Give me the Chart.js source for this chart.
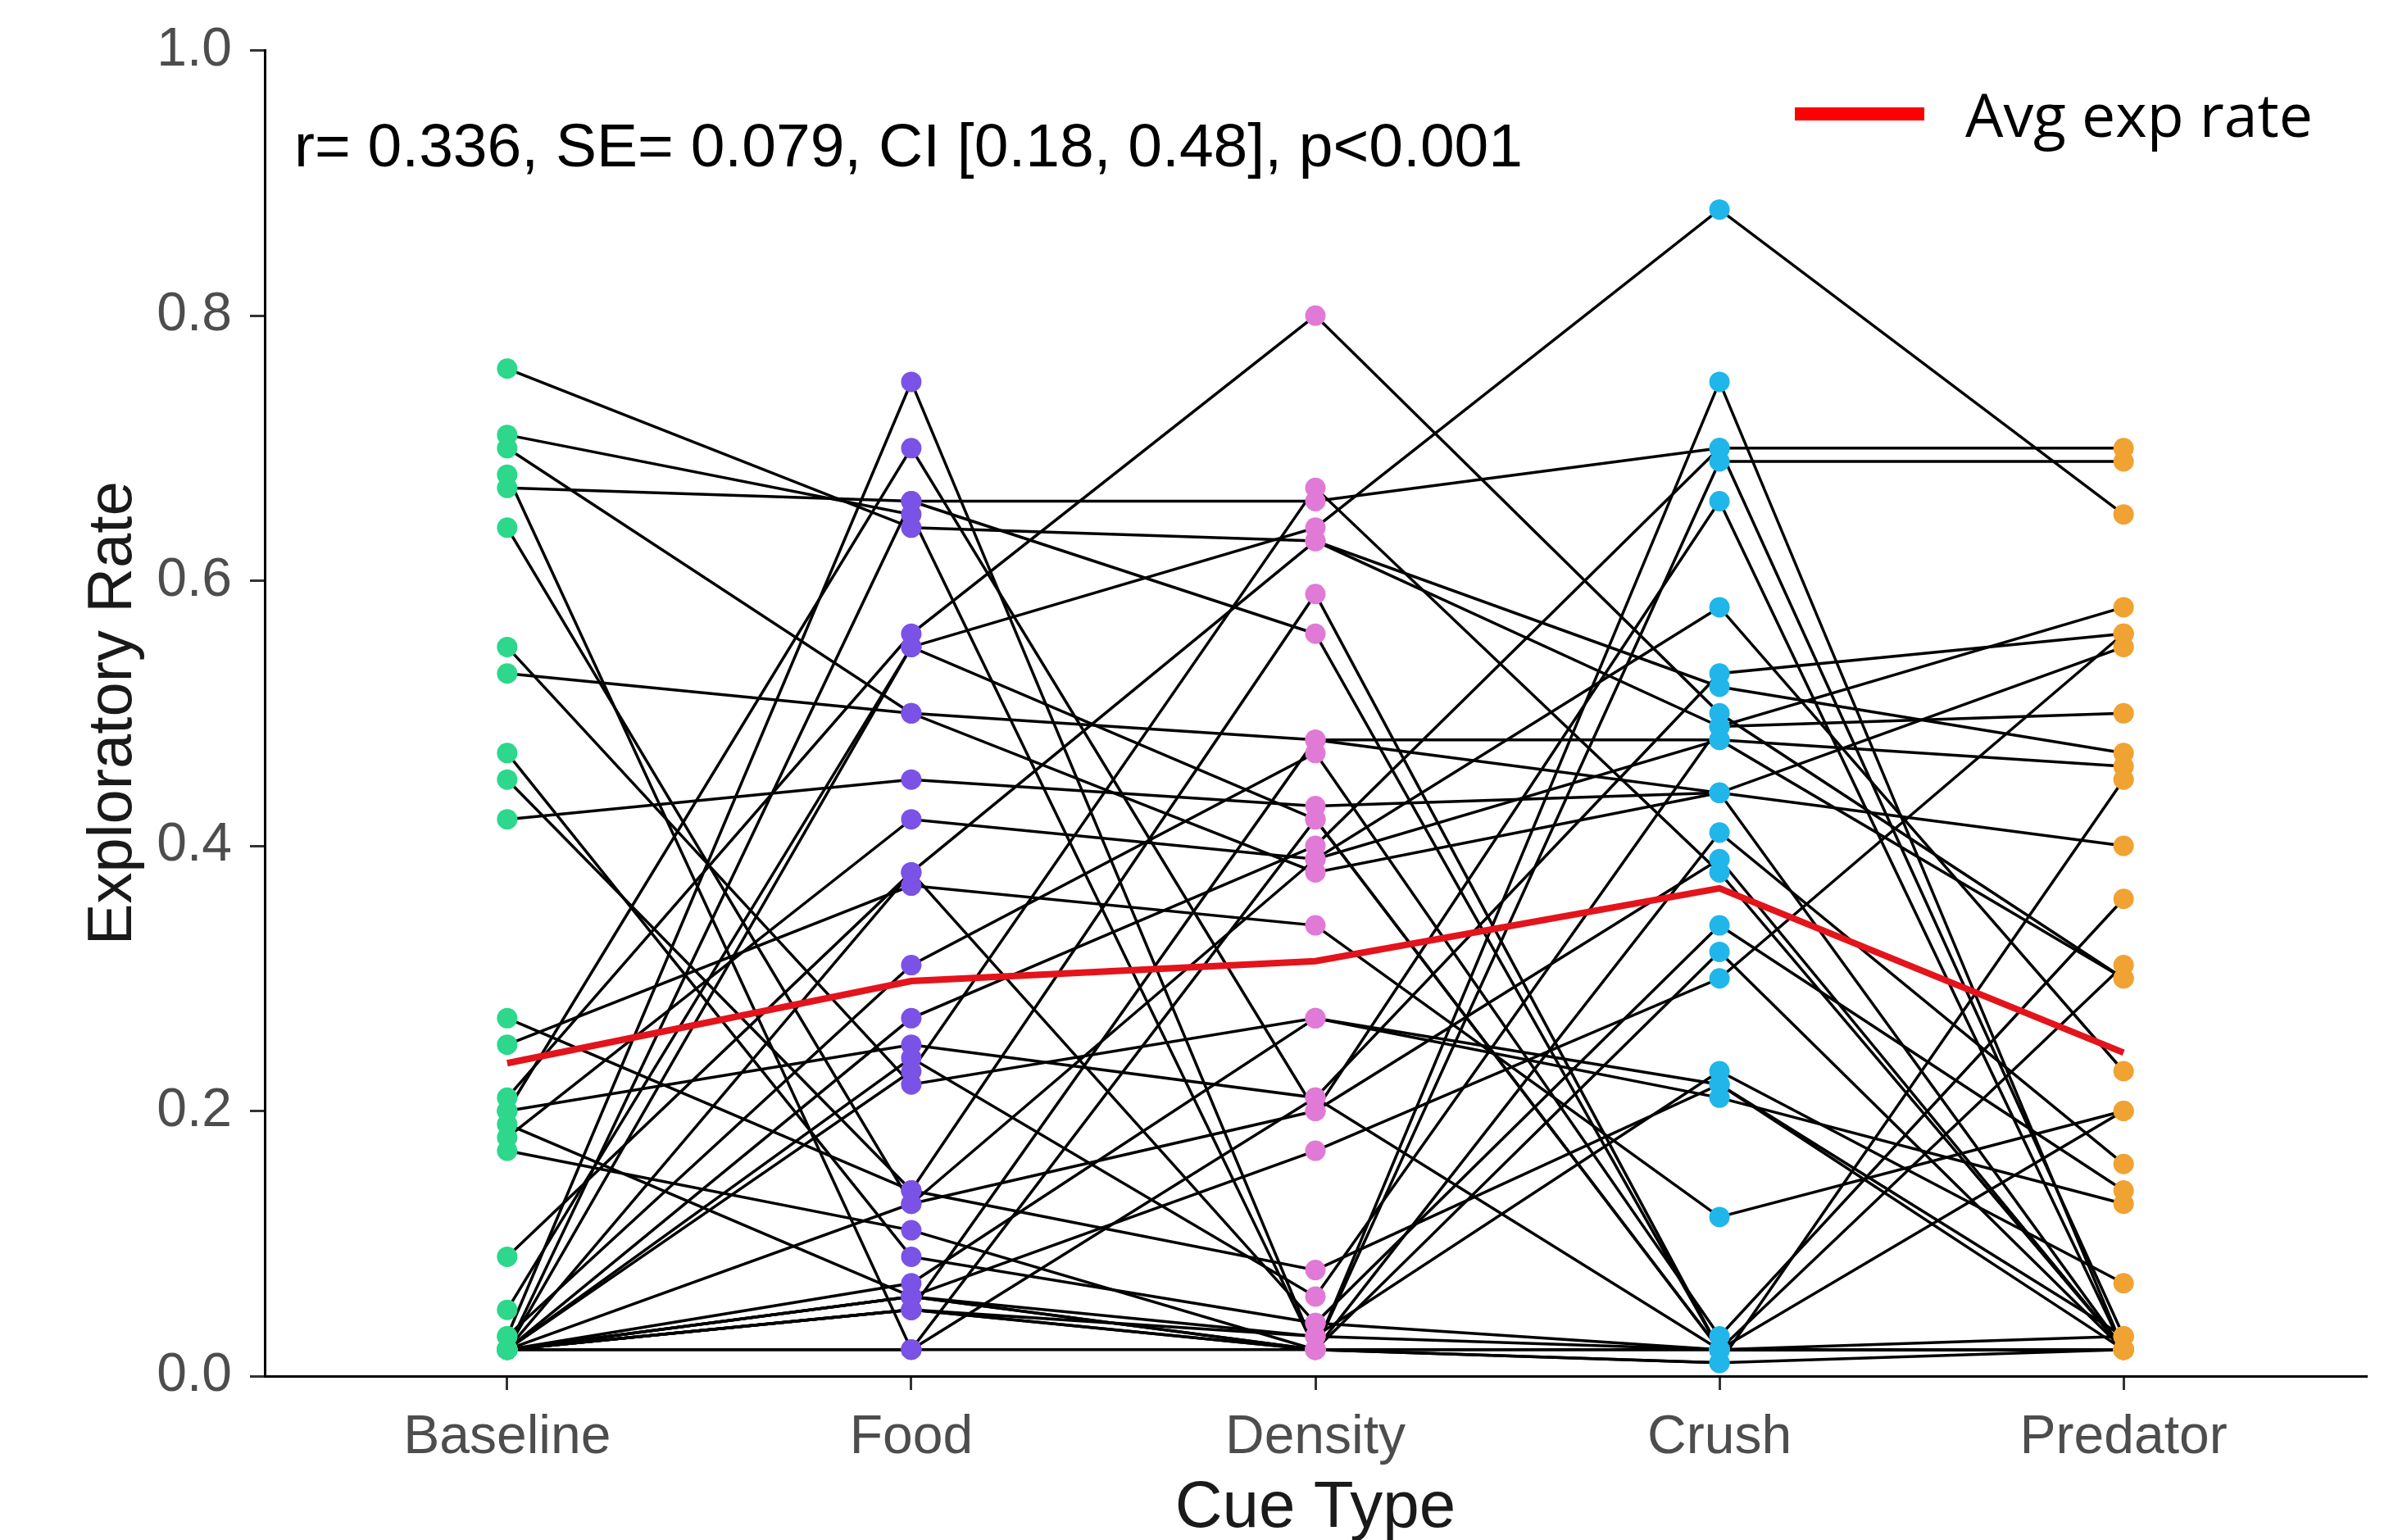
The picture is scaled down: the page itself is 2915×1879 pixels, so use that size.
<!DOCTYPE html>
<html><head><meta charset="utf-8">
<script src="https://cdn.jsdelivr.net/npm/chart.js@4.4.0/dist/chart.umd.min.js"></script>
<style>html,body{margin:0;padding:0;background:#fff;overflow:hidden}</style>
</head><body>
<canvas id="c" width="2915" height="1879"></canvas>
<script>
const cueTypes = ["Baseline", "Food", "Density", "Crush", "Predator"];
const baseline = [0.76,0.71,0.70,0.68,0.67,0.64,0.55,0.53,0.47,0.45,0.42,0.27,0.25,0.21,0.20,0.20,0.19,0.18,0.17,0.09,0.05,0.03,0.03,0.02,0.02,0.02,0.02,0.02,0.02,0.02,0.02,0.02,0.02,0.02,0.02,0.02,0.02,0.02,0.02,0.02];
const food     = [0.64,0.65,0.50,0.02,0.66,0.13,0.22,0.50,0.09,0.14,0.45,0.14,0.37,0.56,0.25,0.70,0.06,0.42,0.11,0.38,0.55,0.75,0.31,0.66,0.27,0.24,0.23,0.06,0.06,0.05,0.05,0.06,0.07,0.13,0.02,0.55,0.38,0.05,0.02,0.05];
const density  = [0.63,0.02,0.38,0.42,0.66,0.20,0.27,0.48,0.04,0.59,0.43,0.08,0.34,0.80,0.21,0.20,0.17,0.39,0.02,0.63,0.64,0.02,0.47,0.56,0.40,0.06,0.67,0.03,0.02,0.03,0.02,0.02,0.27,0.39,0.21,0.42,0.04,0.02,0.02,0.48];
const crush    = [0.52,0.69,0.44,0.02,0.70,0.39,0.21,0.48,0.34,0.02,0.44,0.22,0.12,0.50,0.53,0.66,0.30,0.58,0.41,0.49,0.88,0.75,0.03,0.02,0.70,0.49,0.38,0.02,0.01,0.23,0.01,0.32,0.22,0.48,0.02,0.02,0.02,0.02,0.02,0.44];
const predator = [0.47,0.69,0.40,0.20,0.70,0.02,0.13,0.46,0.14,0.02,0.55,0.02,0.20,0.30,0.56,0.02,0.56,0.23,0.16,0.58,0.65,0.02,0.36,0.31,0.03,0.50,0.02,0.02,0.02,0.07,0.45,0.02,0.03,0.30,0.02,0.03,0.02,0.02,0.02,0.02];
const avgRate = [0.236, 0.298, 0.313, 0.368, 0.244];
const yTicks = [0.0, 0.2, 0.4, 0.6, 0.8, 1.0];
const cueColors = ["#2dd78b", "#7a52e6", "#e07ad6", "#20b6ea", "#f0a232"];
const statText = "r= 0.336, SE= 0.079, CI [0.18, 0.48], p<0.001";
const avgLabel = "Avg exp rate";

const columns = [baseline, food, density, crush, predator];
const datasets = [];
datasets.push({
  label: avgLabel, data: avgRate.map((v, i) => ({x: i, y: v})),
  showLine: true, borderColor: "#e3141b", borderWidth: 8, pointRadius: 0,
  order: 0, isAvg: true
});
columns.forEach((col, ci) => {
  datasets.push({
    label: cueTypes[ci], data: col.map(v => ({x: ci, y: v})),
    showLine: false, pointRadius: 12.5, pointHoverRadius: 12.5,
    backgroundColor: cueColors[ci], borderWidth: 0, order: 1
  });
});
for (let s = 0; s < baseline.length; s++) {
  datasets.push({
    label: "S" + (s + 1), data: columns.map((col, ci) => ({x: ci, y: col[s]})),
    showLine: true, borderColor: "#000", borderWidth: 3.5, pointRadius: 0, order: 2
  });
}

const overlay = {
  id: "overlay",
  afterDraw(chart) {
    const ctx = chart.ctx;
    ctx.save();
    ctx.fillStyle = "#000";
    ctx.textBaseline = "alphabetic";
    ctx.textAlign = "left";
    ctx.font = '75px "Liberation Sans", Arial, sans-serif';
    ctx.fillText(statText, 359, 203);
    const ds = chart.data.datasets.find(d => d.isAvg);
    ctx.fillStyle = "#ff0000";
    ctx.fillRect(2190, 131, 158, 16);
    ctx.fillStyle = "#000";
    ctx.font = '74px "Open Sans", "Noto Sans", sans-serif';
    ctx.fillText(ds.label, 2398, 167, 424);
    ctx.restore();
  }
};

new Chart(document.getElementById("c"), {
  type: "scatter",
  data: { datasets },
  plugins: [overlay],
  options: {
    responsive: false, animation: false, devicePixelRatio: 1,
    layout: { padding: { top: 56, right: 28, left: 0, bottom: 0 } },
    plugins: { legend: { display: false }, tooltip: { enabled: false } },
    scales: {
      x: {
        type: "linear", min: -0.6, max: 4.6,
        afterBuildTicks: sc => { sc.ticks = cueTypes.map((c, i) => ({ value: i })); },
        afterFit: sc => { sc.height = 200; },
        ticks: {
          callback: v => cueTypes[v], color: "#4d4d4d", padding: 19,
          font: { family: '"Liberation Sans", Arial, sans-serif', size: 66 }, maxRotation: 0, autoSkip: false
        },
        grid: { drawOnChartArea: false, drawTicks: true, tickLength: 17, color: "#333", lineWidth: 3 },
        border: { display: true, color: "#000", width: 3 },
        title: {
          display: true, text: "Cue Type", color: "#1a1a1a",
          font: { family: '"Liberation Sans", Arial, sans-serif', size: 80, lineHeight: 0.9 },
          padding: { top: 0, bottom: 2 }
        }
      },
      y: {
        min: 0, max: 1,
        afterBuildTicks: sc => { sc.ticks = yTicks.map(v => ({ value: v })); },
        afterFit: sc => { sc.width = 323; },
        ticks: {
          callback: v => v.toFixed(1), color: "#4d4d4d", padding: 22,
          font: { family: '"Liberation Sans", Arial, sans-serif', size: 66 }
        },
        grid: { drawOnChartArea: false, drawTicks: true, tickLength: 18, color: "#333", lineWidth: 3 },
        border: { display: true, color: "#000", width: 3 },
        title: {
          display: true, text: "Exploratory Rate", color: "#1a1a1a",
          font: { family: '"Liberation Sans", Arial, sans-serif', size: 76, lineHeight: 1.2 },
          padding: { top: 93, bottom: 0 }
        }
      }
    }
  }
});
</script>
</body></html>
